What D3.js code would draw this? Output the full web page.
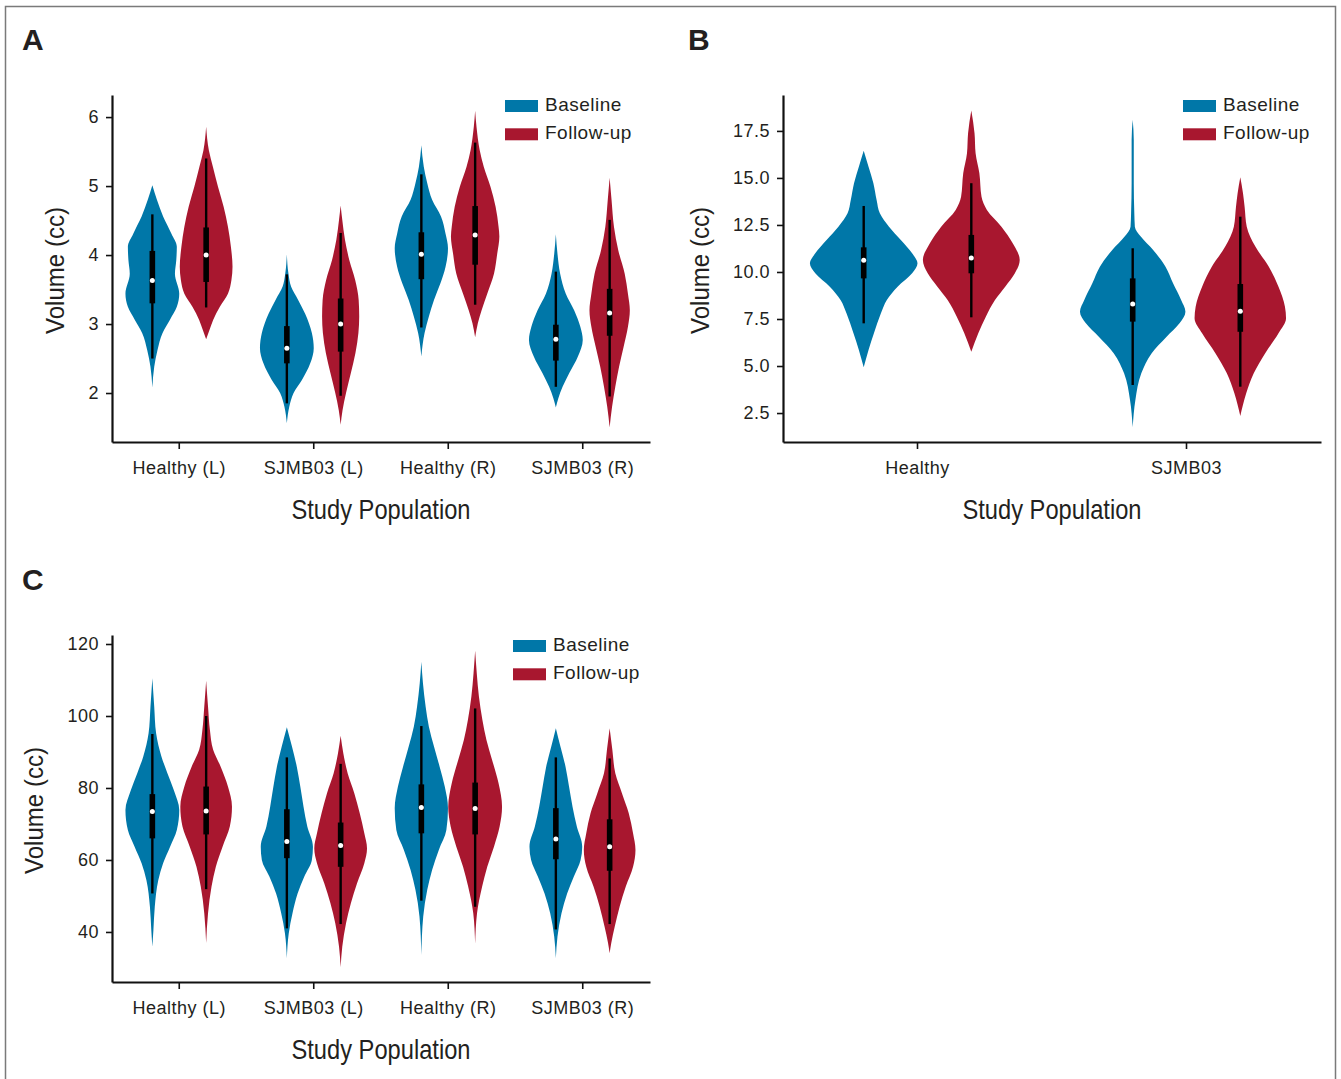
<!DOCTYPE html>
<html>
<head>
<meta charset="utf-8">
<script src="https://cdn.jsdelivr.net/npm/d3@7"></script>
<style>
  body { margin: 0; background: #ffffff; }
  svg text { font-family: "Liberation Sans", Arial, Helvetica, sans-serif; fill: #231f20; }
</style>
</head>
<body>
<svg id="fig" width="1341" height="1079"></svg>
<script>
// ---- categories, series and tick labels ----
const seriesNames = ["Baseline", "Follow-up"];
const groupsLR = ["Healthy (L)", "SJMB03 (L)", "Healthy (R)", "SJMB03 (R)"];
const groupsPooled = ["Healthy", "SJMB03"];
const ticksA = [2, 3, 4, 5, 6];
const ticksB = [2.5, 5.0, 7.5, 10.0, 12.5, 15.0, 17.5];
const ticksC = [40, 60, 80, 100, 120];

// ---- violin outlines: [volume (cc), relative half-width] ----
// order: group by group, Baseline then Follow-up
const densityA = [
  [[5.01,0],[4.80,0.17],[4.56,0.40],[4.31,0.71],[4.12,0.91],[3.93,0.89],[3.73,0.84],[3.44,1.00],[3.25,0.91],[3.06,0.65],[2.87,0.38],[2.62,0.19],[2.38,0.07],[2.08,0]],
  [[5.86,0],[5.52,0.10],[5.28,0.25],[4.99,0.44],[4.70,0.65],[4.41,0.81],[4.12,0.92],[3.83,0.98],[3.64,0.94],[3.44,0.81],[3.25,0.51],[3.06,0.26],[2.91,0.12],[2.78,0]],
  [[4.01,0],[3.73,0.06],[3.54,0.16],[3.35,0.42],[3.15,0.68],[2.87,0.93],[2.65,1.00],[2.43,0.87],[2.19,0.56],[2.00,0.25],[1.80,0.09],[1.56,0]],
  [[4.72,0],[4.51,0.06],[4.22,0.16],[3.93,0.32],[3.64,0.54],[3.35,0.67],[3.11,0.69],[2.87,0.66],[2.58,0.55],[2.29,0.38],[2.00,0.20],[1.75,0.07],[1.54,0]],
  [[5.59,0],[5.28,0.09],[5.04,0.22],[4.80,0.40],[4.56,0.73],[4.31,0.90],[4.10,0.99],[3.83,0.90],[3.59,0.71],[3.35,0.47],[3.11,0.28],[2.87,0.12],[2.53,0]],
  [[6.09,0],[5.86,0.05],[5.52,0.17],[5.28,0.32],[4.99,0.57],[4.70,0.76],[4.41,0.87],[4.27,0.90],[4.02,0.82],[3.73,0.70],[3.44,0.45],[3.20,0.24],[3.01,0.10],[2.81,0]],
  [[4.30,0],[4.02,0.06],[3.73,0.16],[3.44,0.37],[3.20,0.68],[2.96,0.91],[2.77,1.00],[2.53,0.82],[2.29,0.50],[2.09,0.25],[1.92,0.09],[1.79,0]],
  [[5.12,0],[4.80,0.07],[4.41,0.16],[4.07,0.32],[3.73,0.56],[3.44,0.68],[3.20,0.75],[2.96,0.68],[2.67,0.52],[2.38,0.35],[2.09,0.21],[1.80,0.09],[1.50,0]]
];
// box summaries: [lower whisker, Q1, median, Q3, upper whisker]
const boxA = [
  [2.50, 3.30, 3.63, 4.06, 4.59],
  [3.24, 3.61, 4.00, 4.40, 5.40],
  [1.85, 2.43, 2.65, 2.97, 3.72],
  [1.96, 2.60, 3.00, 3.37, 4.32],
  [2.95, 3.65, 4.01, 4.33, 5.17],
  [3.28, 3.86, 4.29, 4.71, 5.63],
  [2.09, 2.47, 2.78, 2.99, 3.76],
  [1.95, 2.83, 3.16, 3.51, 4.51]
];

const densityB = [
  [[16.45,0],[15.60,0.09],[14.72,0.18],[13.83,0.24],[13.12,0.30],[12.41,0.47],[11.70,0.69],[10.99,0.90],[10.46,1.00],[9.93,0.90],[9.22,0.63],[8.51,0.43],[7.80,0.32],[6.74,0.19],[5.85,0.09],[4.93,0]],
  [[18.58,0],[17.38,0.06],[16.31,0.08],[15.25,0.15],[14.00,0.19],[13.30,0.29],[12.41,0.56],[11.53,0.77],[10.64,0.90],[9.93,0.81],[9.22,0.63],[8.51,0.44],[7.62,0.27],[6.74,0.13],[5.76,0]],
  [[18.09,0],[17.02,0.02],[14.72,0.02],[13.12,0.03],[12.41,0.04],[11.88,0.15],[11.17,0.38],[10.28,0.61],[9.40,0.75],[8.51,0.90],[7.89,0.98],[7.27,0.87],[6.56,0.63],[5.67,0.35],[4.61,0.16],[3.19,0.05],[1.74,0]],
  [[15.04,0],[14.19,0.05],[13.47,0.08],[12.41,0.12],[11.35,0.28],[10.28,0.53],[9.22,0.71],[8.15,0.83],[7.54,0.85],[6.74,0.71],[5.67,0.46],[4.61,0.25],[3.55,0.11],[2.34,0]]
];
const boxB = [
  [7.27, 9.66, 10.62, 11.31, 13.51],
  [7.59, 9.93, 10.74, 11.97, 14.72],
  [3.99, 7.36, 8.30, 9.66, 11.26],
  [3.90, 6.82, 7.91, 9.36, 12.94]
];

const densityC = [
  [[110.5,0],[102.6,0.07],[95.2,0.14],[88.7,0.34],[84.1,0.56],[79.4,0.80],[73.9,1.00],[68.3,0.91],[63.7,0.66],[59.1,0.40],[54.4,0.22],[47.0,0.09],[40.6,0.04],[35.9,0]],
  [[109.8,0],[102.6,0.07],[96.1,0.14],[90.6,0.26],[85.9,0.54],[80.4,0.81],[74.8,0.96],[69.3,0.88],[63.7,0.61],[58.1,0.36],[52.6,0.20],[45.2,0.07],[36.9,0]],
  [[96.9,0],[91.5,0.19],[85.9,0.37],[80.4,0.50],[74.8,0.62],[69.3,0.76],[63.7,0.97],[60.0,0.93],[55.4,0.65],[50.7,0.40],[45.2,0.21],[39.6,0.07],[32.7,0]],
  [[94.5,0],[89.6,0.10],[84.1,0.26],[78.5,0.51],[73.0,0.71],[67.4,0.88],[63.2,0.98],[59.1,0.88],[53.5,0.61],[48.0,0.38],[42.4,0.20],[35.9,0.06],[30.2,0]],
  [[115.1,0],[109.1,0.06],[102.6,0.16],[97.0,0.28],[91.5,0.47],[85.9,0.68],[80.4,0.87],[74.4,0.99],[68.3,0.93],[62.8,0.65],[57.2,0.40],[51.7,0.22],[44.3,0.07],[33.6,0]],
  [[118.1,0],[111.9,0.06],[105.4,0.14],[98.9,0.27],[93.3,0.42],[87.8,0.63],[81.3,0.87],[74.8,1.00],[69.3,0.91],[63.7,0.70],[58.1,0.45],[52.6,0.26],[45.2,0.07],[36.7,0]],
  [[96.6,0],[91.5,0.17],[85.9,0.36],[80.4,0.49],[74.8,0.62],[69.3,0.78],[63.7,0.98],[60.0,0.92],[55.4,0.67],[50.7,0.42],[45.2,0.21],[38.7,0.06],[32.7,0]],
  [[96.6,0],[90.6,0.10],[84.1,0.21],[78.5,0.46],[73.0,0.71],[67.4,0.87],[62.8,0.96],[58.1,0.87],[52.6,0.60],[47.0,0.37],[41.5,0.19],[36.9,0.06],[34.1,0]]
];
const boxC = [
  [50.7, 66.0, 73.5, 78.3, 95.0],
  [51.9, 67.1, 73.6, 80.4, 100.0],
  [41.0, 60.5, 65.1, 74.1, 88.5],
  [42.2, 58.1, 64.0, 70.4, 86.7],
  [48.7, 67.4, 74.6, 81.0, 97.2],
  [47.0, 67.1, 74.3, 81.5, 102.1],
  [40.7, 60.2, 65.8, 74.4, 88.5],
  [42.2, 57.0, 63.7, 71.3, 88.2]
];

// ---- styling ----
const seriesColors = ["#0077a8", "#a8172f"];
const svg = d3.select("#fig");

// figure frame
svg.append("path")
  .attr("d", "M5.5,1079 V6.5 H1335.5 V1079")
  .attr("fill", "none").attr("stroke", "#7a7a7a").attr("stroke-width", 1.5);

function drawPanel(p) {
  const g = svg.append("g");
  const x0 = d3.scaleBand().domain(p.groups).range([p.left, p.right]);
  const x1 = d3.scaleBand().domain(seriesNames)
    .range([0.1 * x0.bandwidth(), 0.9 * x0.bandwidth()]);
  const y = d3.scaleLinear().domain(p.yDomain).range([p.bottom, p.top]);
  const w = d3.scaleLinear().domain([0, 1]).range([0, x1.bandwidth() / 2]);

  // violins with inner box
  p.groups.forEach((grp, gi) => {
    seriesNames.forEach((s, si) => {
      const k = gi * seriesNames.length + si;
      const cx = x0(grp) + x1(s) + x1.bandwidth() / 2;
      const area = d3.area()
        .curve(d3.curveMonotoneY)
        .y(d => y(d[0]))
        .x0(d => cx - w(d[1]))
        .x1(d => cx + w(d[1]));
      g.append("path")
        .attr("d", area(p.density[k]))
        .attr("fill", seriesColors[si]);

      const [lo, q1, med, q3, hi] = p.box[k];
      g.append("line")
        .attr("x1", cx).attr("x2", cx)
        .attr("y1", y(lo)).attr("y2", y(hi))
        .attr("stroke", "#000").attr("stroke-width", 2.4);
      g.append("rect")
        .attr("x", cx - 2.8).attr("width", 5.6)
        .attr("y", y(q3)).attr("height", y(q1) - y(q3))
        .attr("fill", "#000");
      g.append("circle")
        .attr("cx", cx).attr("cy", y(med)).attr("r", 2.5)
        .attr("fill", "#fff");
    });
  });

  // axes
  const ya = g.append("g")
    .attr("transform", `translate(${p.left},0)`)
    .call(d3.axisLeft(y).tickValues(p.ticks).tickFormat(p.fmt)
      .tickSize(6).tickSizeOuter(0).tickPadding(7));
  const xa = g.append("g")
    .attr("transform", `translate(0,${p.bottom})`)
    .call(d3.axisBottom(x0).tickSize(7).tickSizeOuter(0).tickPadding(12));
  [ya, xa].forEach(a => {
    a.attr("font-family", null).attr("font-size", null);
    a.select(".domain").attr("stroke", "#111").attr("stroke-width", 2.2);
    a.selectAll(".tick line").attr("stroke", "#111").attr("stroke-width", 1.6);
    a.selectAll(".tick text")
      .style("font-size", "18px")
      .style("letter-spacing", "0.5px")
      .attr("fill", "#231f20");
  });

  // axis titles
  g.append("text")
    .attr("transform", `translate(${p.yTitleX},${(p.top + p.bottom) / 2 + 2}) rotate(-90)`)
    .attr("text-anchor", "middle")
    .style("font-size", "25px")
    .attr("textLength", 127)
    .attr("lengthAdjust", "spacingAndGlyphs")
    .text("Volume (cc)");
  g.append("text")
    .attr("x", (p.left + p.right) / 2)
    .attr("y", p.bottom + 77)
    .attr("text-anchor", "middle")
    .style("font-size", "28px")
    .attr("textLength", 179)
    .attr("lengthAdjust", "spacingAndGlyphs")
    .text("Study Population");

  // panel letter
  g.append("text")
    .attr("x", p.letterX).attr("y", p.letterY)
    .style("font-size", "30px").style("font-weight", "bold")
    .attr("fill", "#111")
    .text(p.letter);

  // legend
  seriesNames.forEach((s, si) => {
    const ly = p.legendY + si * 28.3;
    g.append("rect")
      .attr("x", p.legendX).attr("y", ly)
      .attr("width", 33).attr("height", 12)
      .attr("fill", seriesColors[si]);
    g.append("text")
      .attr("x", p.legendX + 40).attr("y", ly + 11)
      .style("font-size", "19px")
      .style("letter-spacing", "0.5px")
      .text(s);
  });
}

drawPanel({
  letter: "A", letterX: 22, letterY: 50,
  groups: groupsLR, density: densityA, box: boxA,
  ticks: ticksA, fmt: d3.format("d"),
  left: 112, right: 650, top: 95, bottom: 442,
  yDomain: [1.29, 6.32], yTitleX: 64,
  legendX: 505, legendY: 100
});
drawPanel({
  letter: "B", letterX: 688, letterY: 50,
  groups: groupsPooled, density: densityB, box: boxB,
  ticks: ticksB, fmt: d3.format(".1f"),
  left: 783, right: 1321, top: 95, bottom: 442,
  yDomain: [0.96, 19.41], yTitleX: 709,
  legendX: 1183, legendY: 100
});
drawPanel({
  letter: "C", letterX: 22, letterY: 590,
  groups: groupsLR, density: densityC, box: boxC,
  ticks: ticksC, fmt: d3.format("d"),
  left: 112, right: 650, top: 635, bottom: 982,
  yDomain: [26.1, 122.5], yTitleX: 43,
  legendX: 513, legendY: 640
});
</script>
</body>
</html>
